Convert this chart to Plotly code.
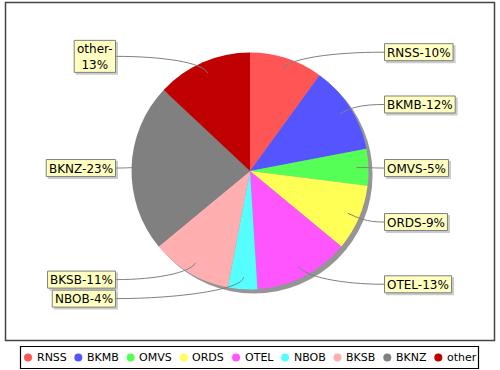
import math
import plotly.graph_objects as go

labels = ["RNSS", "BKMB", "OMVS", "ORDS", "OTEL", "NBOB", "BKSB", "BKNZ", "other"]
values = [10, 12, 5, 9, 13, 4, 11, 23, 13]
colors = ["#FF5555", "#5555FF", "#55FF55", "#FFFF55", "#FF55FF",
          "#55FFFF", "#FFAFAF", "#808080", "#C00000"]
wrap_labels = {"other"}

W, H = 500, 370
CX, CY, R = 250, 171, 118.5
SH = 4
FONT = "DejaVu Sans"
FS = 12
FS_LEG = 11

# approximate DejaVu Sans advance widths (em)
ADV = {"R": .695, "N": .748, "S": .635, "B": .686, "K": .656, "M": .863, "O": .787,
       "V": .684, "D": .770, "T": .611, "E": .632, "L": .557, "Z": .685, "o": .612,
       "t": .392, "h": .634, "e": .615, "r": .411, "-": .361, "%": .950}


def tw(s, size=FS):
    return sum(ADV.get(ch, .636) for ch in s) * size


def px(x):
    return x / W


def py(y):
    return 1 - y / H


def dom(dx=0, dy=0):
    return dict(x=[px(CX - R + dx), px(CX + R + dx)],
                y=[py(CY + R + dy), py(CY - R + dy)])


fig = go.Figure()
fig.add_trace(go.Pie(values=[1], marker=dict(colors=["#959595"], line=dict(width=0)),
                     textinfo="none", hoverinfo="skip", showlegend=False, sort=False,
                     domain=dom(SH, SH)))
fig.add_trace(go.Pie(labels=labels, values=values, marker=dict(colors=colors, line=dict(width=0)),
                     textinfo="none", sort=False, direction="clockwise", rotation=0,
                     showlegend=False, domain=dom()))

# labels
total = sum(values)
cum = 0
items = []
K = 126
LCY = 172
for lab, v in zip(labels, values):
    mid = (cum + v / 2) / total * 2 * math.pi
    cum += v
    s, c = math.sin(mid), math.cos(mid)
    pct = round(v / total * 100)
    lines = [f"{lab}-", f"{pct}%"] if lab in wrap_labels else [f"{lab}-{pct}%"]
    items.append(dict(s=s, c=c, lines=lines, h=18 + 15 * (len(lines) - 1),
                      w=max(tw(t) for t in lines) + 6,
                      side=1 if s >= 0 else -1, y=LCY - K * c))

for side in (1, -1):
    grp = sorted([it for it in items if it["side"] == side], key=lambda d: d["y"])
    for _ in range(20):
        for a, b in zip(grp, grp[1:]):
            need = (a["h"] + b["h"]) / 2 + 1
            gap = b["y"] - a["y"]
            if gap < need:
                d = (need - gap) / 2
                a["y"] -= d
                b["y"] += d

shapes = []
annotations = []
for it in items:
    s, c, side = it["s"], it["c"], it["side"]
    ax, ay = CX + 0.9 * R * s, CY - 0.9 * R * c
    ex, ey = CX + 1.0 * R * s, CY - 1.0 * R * c
    lx = 384 if side > 0 else 116
    ly = it["y"]
    c2x = lx - side * 0.5 * abs(lx - ax)
    path = (f"M {px(ax)} {py(ay)} C {px(ex)} {py(ey)} {px(c2x)} {py(ly)} "
            f"{px(lx)} {py(ly)}")
    shapes.append(dict(type="path", path=path, xref="paper", yref="paper",
                       line=dict(color="#808080", width=1)))
    x0 = lx if side > 0 else lx - it["w"]
    x1 = x0 + it["w"]
    y0, y1 = ly - it["h"] / 2, ly + it["h"] / 2
    shapes.append(dict(type="rect", xref="paper", yref="paper",
                       x0=px(x0 + 2), x1=px(x1 + 2), y0=py(y1 + 2), y1=py(y0 + 2),
                       fillcolor="rgba(151,151,151,0.5)", line=dict(width=0)))
    shapes.append(dict(type="rect", xref="paper", yref="paper",
                       x0=px(x0 + .5), x1=px(x1 - .5), y0=py(y1 - .5), y1=py(y0 + .5),
                       fillcolor="#FFFFC0", line=dict(color="#808080", width=1)))
    annotations.append(dict(x=px((x0 + x1) / 2), y=py(ly + 0.5), xref="paper", yref="paper",
                            xanchor="center", yanchor="middle", showarrow=False,
                            text="<br>".join(it["lines"]), align="center",
                            font=dict(family=FONT, size=FS, color="black")))

# frame
shapes.append(dict(type="rect", xref="paper", yref="paper", x0=px(5.5), x1=px(494.5),
                   y0=py(340.5), y1=py(2.5), line=dict(color="#444444", width=1.5)))

# legend (computed item by item)
LY = 357.5
shapes.append(dict(type="rect", xref="paper", yref="paper", x0=px(20.5), x1=px(478.5),
                   y0=py(368.5), y1=py(346.5), line=dict(color="black", width=1.2),
                   fillcolor="white", layer="below"))
x = 28
for lab, col in zip(labels, colors):
    shapes.append(dict(type="circle", xref="paper", yref="paper",
                       x0=px(x - 4), x1=px(x + 4), y0=py(LY + 4), y1=py(LY - 4),
                       fillcolor=col, line=dict(width=0)))
    tx = x + 8.5
    annotations.append(dict(x=px(tx), y=py(LY), xref="paper", yref="paper",
                            xanchor="left", yanchor="middle", showarrow=False, text=lab,
                            borderpad=0, xshift=-1,
                            font=dict(family=FONT, size=FS_LEG, color="black")))
    x = tx + tw(lab, FS_LEG) + 12

fig.update_layout(width=W, height=H, margin=dict(l=0, r=0, t=0, b=0),
                  paper_bgcolor="white", plot_bgcolor="white", showlegend=False,
                  shapes=shapes, annotations=annotations,
                  font=dict(family=FONT, size=FS))
fig.write_html("out.html", config={"displayModeBar": False},
               post_script="document.body.style.margin='0';")
